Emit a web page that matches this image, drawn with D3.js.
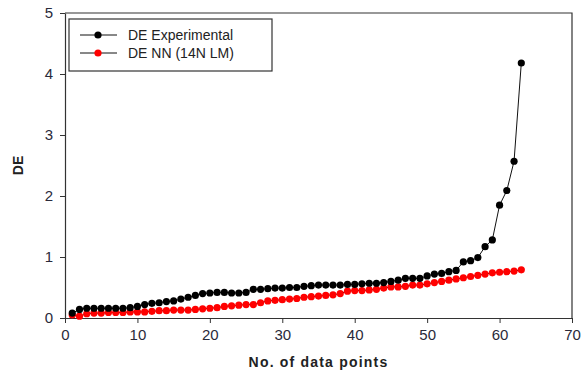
<!DOCTYPE html>
<html>
<head>
<meta charset="utf-8">
<script src="https://cdn.jsdelivr.net/npm/d3@7/dist/d3.min.js"></script>
<style>
  body { margin: 0; background: #fff; }
  svg { display: block; font-family: "Liberation Sans", Arial, sans-serif; }
</style>
</head>
<body>
<div id="graph"></div>
<script>
var xTicks = [0, 10, 20, 30, 40, 50, 60, 70];
var yTicks = [0, 1, 2, 3, 4, 5];
var seriesNames = ["DE Experimental", "DE NN (14N LM)"];

var deExperimental = [0.08, 0.14, 0.16, 0.16, 0.16, 0.16, 0.16, 0.16, 0.17, 0.19,
  0.22, 0.24, 0.25, 0.27, 0.28, 0.31, 0.34, 0.37, 0.40, 0.41,
  0.42, 0.42, 0.41, 0.41, 0.42, 0.47, 0.47, 0.48, 0.49, 0.49,
  0.50, 0.50, 0.52, 0.53, 0.54, 0.54, 0.54, 0.54, 0.55, 0.55,
  0.56, 0.57, 0.57, 0.58, 0.60, 0.62, 0.65, 0.65, 0.65, 0.69,
  0.72, 0.73, 0.76, 0.78, 0.92, 0.94, 0.99, 1.17, 1.28, 1.85,
  2.09, 2.57, 4.18];

var deNN = [0.05, 0.03, 0.07, 0.08, 0.08, 0.09, 0.09, 0.09, 0.10, 0.10,
  0.10, 0.11, 0.12, 0.12, 0.13, 0.13, 0.13, 0.14, 0.15, 0.16,
  0.17, 0.19, 0.20, 0.21, 0.22, 0.22, 0.25, 0.28, 0.29, 0.30,
  0.31, 0.32, 0.34, 0.35, 0.36, 0.37, 0.38, 0.40, 0.44, 0.45,
  0.45, 0.46, 0.47, 0.49, 0.51, 0.51, 0.52, 0.54, 0.54, 0.56,
  0.58, 0.60, 0.62, 0.64, 0.66, 0.68, 0.70, 0.72, 0.74, 0.75,
  0.76, 0.77, 0.79];

var width = 582, height = 375;
var margins = {top: 13, right: 10, bottom: 57, left: 65};

var svg = d3.select('#graph')
  .append('svg')
  .attr('width', width)
  .attr('height', height);

var x = d3.scaleLinear().domain([0, 70]).range([margins.left, width - margins.right]);
var y = d3.scaleLinear().domain([0, 5]).range([height - margins.bottom, margins.top]);

// frame: top and right lines
svg.append('path')
  .attr('d', 'M' + x(0) + ',' + y(5) + 'H' + x(70) + 'V' + y(0))
  .attr('fill', 'none')
  .attr('stroke', '#333')
  .attr('stroke-width', 1.2);

var xAxis = svg.append('g')
  .attr('transform', 'translate(0,' + y(0) + ')')
  .call(d3.axisBottom(x).tickValues(xTicks).tickFormat(d3.format('d'))
    .tickSize(5).tickSizeOuter(0).tickPadding(6));

var yAxis = svg.append('g')
  .attr('transform', 'translate(' + x(0) + ',0)')
  .call(d3.axisLeft(y).tickValues(yTicks).tickFormat(d3.format('d'))
    .tickSize(5).tickSizeOuter(0).tickPadding(7));

[xAxis, yAxis].forEach(function(a) {
  a.select('.domain').attr('stroke', '#333').attr('stroke-width', 1.2);
  a.selectAll('.tick line').attr('stroke', '#333');
  a.selectAll('.tick text')
    .attr('fill', '#2a2a3a')
    .style('font-size', '15px')
    .style('font-family', '"Liberation Sans", Arial, sans-serif');
});

// axis titles
svg.append('text')
  .attr('x', (x(0) + x(70)) / 2)
  .attr('y', 367)
  .attr('text-anchor', 'middle')
  .style('font-size', '14px')
  .style('font-weight', 'bold')
  .style('letter-spacing', '1.2px')
  .attr('fill', '#222')
  .text('No. of data points');

svg.append('text')
  .attr('transform', 'translate(23,' + y(2.5) + ') rotate(-90)')
  .attr('text-anchor', 'middle')
  .style('font-size', '14px')
  .style('font-weight', 'bold')
  .attr('fill', '#222')
  .text('DE');

var lineFunc = d3.line()
  .x(function(d, i) { return x(i + 1); })
  .y(function(d) { return y(d); });

function drawSeries(values, color) {
  svg.append('path')
    .attr('d', lineFunc(values))
    .attr('fill', 'none')
    .attr('stroke', '#111')
    .attr('stroke-width', 1);
  svg.append('g').selectAll('circle')
    .data(values)
    .enter()
    .append('circle')
    .attr('cx', function(d, i) { return x(i + 1); })
    .attr('cy', function(d) { return y(d); })
    .attr('r', 3.6)
    .attr('fill', color);
}

drawSeries(deNN, '#ff0000');
drawSeries(deExperimental, '#000000');

// legend
var legend = svg.append('g').attr('transform', 'translate(69,19)');
legend.append('rect')
  .attr('width', 203)
  .attr('height', 52)
  .attr('fill', '#fff')
  .attr('stroke', '#333')
  .attr('stroke-width', 1.2);

var legendColors = ['#000000', '#ff0000'];
seriesNames.forEach(function(name, i) {
  var row = legend.append('g').attr('transform', 'translate(0,' + (16 + i * 18) + ')');
  row.append('line')
    .attr('x1', 11).attr('x2', 48)
    .attr('y1', 0).attr('y2', 0)
    .attr('stroke', '#111');
  row.append('circle')
    .attr('cx', 29).attr('cy', 0).attr('r', 3.6)
    .attr('fill', legendColors[i]);
  row.append('text')
    .attr('x', 59).attr('y', 5)
    .style('font-size', '14px')
    .attr('fill', '#222')
    .text(name);
});
</script>
</body>
</html>
